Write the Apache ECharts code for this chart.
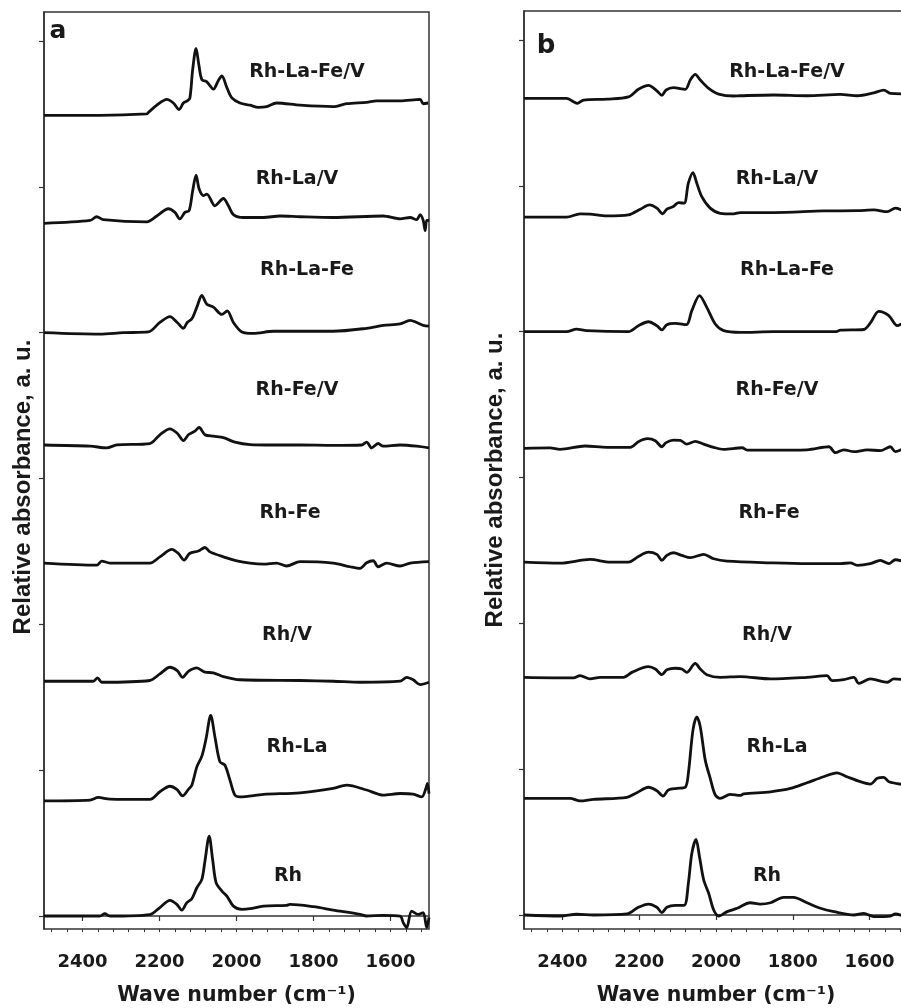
<!doctype html>
<html>
<head>
<meta charset='utf-8'>
<title>CO adsorption spectra</title>
<style>
html, body { margin: 0; padding: 0; background: #fff; }
#chart { width: 901px; height: 1008px; }
</style>
</head>
<body>
<div id="chart"></div>
<script src="https://cdn.jsdelivr.net/npm/echarts@6/dist/echarts.min.js"></script>
<script>
// sample names, bottom to top
const names = ['Rh', 'Rh-La', 'Rh/V', 'Rh-Fe', 'Rh-Fe/V', 'Rh-La-Fe', 'Rh-La/V', 'Rh-La-Fe/V'];
// vertical offsets of each trace (tick spacing = 1)
const offsetsA = [0, 0.79, 1.61, 2.42, 3.23, 4.0, 4.75, 5.49];
const offsetsB = [0, 0.80, 1.63, 2.42, 3.20, 4.0, 4.785, 5.60];
const xTicks = [2400, 2200, 2000, 1800, 1600];
const yTicks = [0, 1, 2, 3, 4, 5, 6];

// panel a  [wavenumber, absorbance above own baseline]
const aRh = [[2500,0],[2355,0],[2342,0.016],[2329,0],[2225,0.01],[2199,0.058],[2173,0.107],[2155,0.08],[2142,0.04],[2129,0.092],[2116,0.119],[2103,0.194],[2090,0.251],[2082,0.376],[2071,0.548],[2062,0.388],[2053,0.229],[2038,0.171],[2025,0.137],[2008,0.068],[1986,0.046],[1965,0.05],[1930,0.068],[1870,0.073],[1861,0.08],[1800,0.064],[1749,0.041],[1679,0.011],[1662,0],[1619,0.005],[1575,0],[1567,-0.045],[1558,-0.08],[1545,0.034],[1528,0.011],[1515,0.023],[1506,-0.08],[1500,-0.01]];
const aLa = [[2500,0],[2380,0.005],[2359,0.023],[2329,0.012],[2225,0.01],[2199,0.062],[2173,0.1],[2155,0.078],[2140,0.034],[2125,0.078],[2116,0.107],[2103,0.233],[2090,0.306],[2079,0.427],[2067,0.586],[2056,0.438],[2043,0.267],[2030,0.244],[2017,0.142],[2004,0.039],[1991,0.027],[1930,0.044],[1835,0.055],[1749,0.085],[1714,0.107],[1662,0.074],[1619,0.039],[1575,0.05],[1541,0.046],[1519,0.027],[1508,0.085],[1504,0.12],[1500,0.05]];
const aV = [[2500,0],[2372,0],[2361,0.023],[2350,-0.007],[2225,0.005],[2199,0.05],[2173,0.096],[2154,0.073],[2140,0.027],[2125,0.068],[2103,0.092],[2082,0.062],[2060,0.058],[2034,0.032],[1991,0.01],[1835,0.005],[1749,0],[1679,-0.007],[1575,0],[1558,0.027],[1541,0.01],[1523,-0.023],[1500,-0.007]];
const aFe = [[2500,0],[2363,-0.014],[2350,0.014],[2329,0],[2225,0],[2199,0.043],[2168,0.094],[2151,0.066],[2136,0.02],[2122,0.066],[2099,0.083],[2082,0.107],[2069,0.077],[2034,0.043],[1999,0.016],[1965,0],[1930,-0.007],[1896,0],[1870,-0.02],[1835,0.01],[1749,0],[1705,-0.025],[1679,-0.036],[1662,0.002],[1645,0.016],[1632,-0.025],[1610,0],[1575,-0.02],[1549,0],[1500,0.01]];
const aFeV = [[2500,0],[2380,-0.008],[2337,-0.02],[2311,0],[2225,0.01],[2199,0.07],[2173,0.11],[2154,0.08],[2138,0.03],[2125,0.07],[2108,0.095],[2097,0.12],[2082,0.07],[2060,0.06],[2034,0.05],[2004,0.02],[1965,0.003],[1904,0],[1835,0],[1749,-0.003],[1675,0],[1662,0.02],[1649,-0.02],[1632,0.01],[1619,-0.008],[1575,0],[1532,-0.008],[1500,-0.02]];
const aLaFe = [[2500,0],[2355,-0.01],[2294,0],[2229,0.005],[2199,0.07],[2173,0.11],[2154,0.07],[2138,0.03],[2128,0.07],[2116,0.095],[2103,0.175],[2090,0.255],[2077,0.195],[2060,0.175],[2038,0.125],[2024,0.15],[2008,0.07],[1986,0.005],[1956,-0.005],[1904,0.01],[1835,0.01],[1749,0.01],[1662,0.03],[1619,0.05],[1575,0.06],[1549,0.085],[1532,0.07],[1515,0.05],[1500,0.045]];
const aLaV = [[2500,0],[2380,0.02],[2363,0.045],[2346,0.025],[2233,0.01],[2207,0.05],[2177,0.10],[2160,0.075],[2147,0.03],[2134,0.075],[2123,0.087],[2114,0.22],[2105,0.33],[2097,0.235],[2086,0.19],[2077,0.20],[2056,0.12],[2034,0.17],[2021,0.12],[2008,0.06],[1982,0.04],[1930,0.04],[1887,0.05],[1835,0.045],[1749,0.04],[1619,0.05],[1575,0.03],[1549,0.04],[1532,0.025],[1523,0.06],[1515,0.02],[1510,-0.05],[1506,0.02],[1500,0.02]];
const aLaFeV = [[2500,0],[2355,0],[2233,0.01],[2229,0.02],[2207,0.07],[2181,0.11],[2164,0.085],[2149,0.04],[2138,0.085],[2128,0.10],[2121,0.12],[2114,0.31],[2105,0.46],[2098,0.35],[2090,0.245],[2077,0.23],[2060,0.18],[2047,0.24],[2038,0.27],[2025,0.19],[2012,0.12],[1991,0.085],[1965,0.07],[1943,0.055],[1922,0.06],[1896,0.085],[1835,0.07],[1749,0.06],[1714,0.08],[1662,0.09],[1636,0.10],[1575,0.10],[1523,0.11],[1515,0.08],[1502,0.085]];

// panel b
const bRh = [[2500,0],[2406,-0.007],[2363,0.005],[2319,0],[2232,0.007],[2202,0.053],[2176,0.075],[2154,0.053],[2141,0.016],[2128,0.053],[2106,0.066],[2083,0.066],[2072,0.217],[2063,0.422],[2052,0.518],[2043,0.4],[2032,0.24],[2019,0.148],[2006,0.034],[1993,-0.007],[1971,0.023],[1945,0.046],[1911,0.084],[1885,0.075],[1858,0.084],[1824,0.121],[1798,0.121],[1763,0.084],[1728,0.046],[1693,0.023],[1641,0],[1615,0.011],[1589,-0.011],[1546,-0.007],[1533,0.007],[1500,-0.02]];
const bLa = [[2500,0],[2380,0],[2354,-0.018],[2319,-0.007],[2232,0.007],[2206,0.039],[2176,0.076],[2154,0.052],[2138,0.016],[2124,0.057],[2102,0.068],[2080,0.076],[2072,0.171],[2060,0.468],[2050,0.559],[2041,0.491],[2028,0.262],[2015,0.137],[2002,0.023],[1989,0],[1963,0.027],[1937,0.02],[1928,0.03],[1858,0.045],[1806,0.068],[1763,0.107],[1720,0.148],[1685,0.175],[1659,0.148],[1624,0.114],[1598,0.098],[1580,0.137],[1563,0.144],[1550,0.114],[1500,0.09]];
const bV = [[2500,0],[2371,-0.004],[2354,0.012],[2328,-0.011],[2302,0],[2241,0],[2219,0.034],[2176,0.073],[2158,0.057],[2141,0.018],[2128,0.051],[2106,0.062],[2089,0.057],[2076,0.034],[2054,0.095],[2041,0.057],[2024,0.018],[1989,0],[1937,0.005],[1858,-0.011],[1763,0],[1711,0.011],[1698,-0.023],[1667,-0.016],[1641,0],[1628,-0.041],[1598,-0.011],[1554,-0.034],[1537,-0.011],[1500,-0.02]];
const bFe = [[2500,0],[2406,-0.007],[2328,0.018],[2276,0],[2228,0],[2202,0.039],[2176,0.068],[2154,0.053],[2141,0.012],[2128,0.046],[2111,0.064],[2089,0.046],[2067,0.03],[2032,0.053],[2006,0.023],[1971,0.007],[1858,-0.005],[1763,-0.011],[1676,-0.011],[1650,-0.005],[1632,-0.023],[1598,-0.011],[1572,0.012],[1550,-0.011],[1533,0.016],[1500,-0.005]];
const bFeV = [[2500,0],[2432,0.003],[2406,-0.007],[2341,0.016],[2284,0.007],[2223,0.007],[2202,0.046],[2178,0.066],[2158,0.052],[2141,0.011],[2130,0.039],[2111,0.057],[2093,0.055],[2076,0.029],[2054,0.048],[2032,0.029],[2006,0.007],[1980,-0.007],[1932,0.004],[1919,-0.012],[1858,-0.012],[1763,-0.01],[1706,0.011],[1689,-0.03],[1667,-0.01],[1641,-0.023],[1606,-0.01],[1572,-0.016],[1546,0.011],[1533,-0.023],[1500,0.02]];
const bLaFe = [[2500,0],[2389,0],[2363,0.018],[2337,0.007],[2228,0],[2202,0.041],[2176,0.068],[2154,0.041],[2141,0.012],[2128,0.048],[2106,0.057],[2077,0.048],[2063,0.144],[2043,0.247],[2024,0.167],[2002,0.053],[1980,0.007],[1937,-0.005],[1850,0],[1763,0],[1689,0],[1676,0.01],[1615,0.015],[1598,0.06],[1576,0.139],[1550,0.11],[1528,0.041],[1500,0.09]];
const bLaV = [[2500,0],[2389,0],[2354,0.023],[2328,0.021],[2284,0.009],[2228,0.016],[2197,0.055],[2173,0.084],[2154,0.062],[2139,0.023],[2128,0.055],[2111,0.073],[2098,0.1],[2083,0.096],[2072,0.233],[2060,0.306],[2050,0.233],[2037,0.141],[2015,0.062],[1989,0.027],[1954,0.023],[1937,0.032],[1850,0.032],[1720,0.043],[1632,0.045],[1589,0.05],[1554,0.038],[1533,0.062],[1500,0.027]];
const bLaFeV = [[2500,0],[2389,0],[2371,-0.023],[2361,-0.034],[2345,-0.012],[2284,-0.005],[2228,0.01],[2202,0.062],[2176,0.089],[2154,0.052],[2141,0.021],[2130,0.057],[2111,0.073],[2080,0.062],[2067,0.126],[2054,0.164],[2041,0.126],[2019,0.068],[1993,0.029],[1954,0.016],[1937,0.018],[1850,0.023],[1763,0.018],[1676,0.027],[1632,0.018],[1589,0.038],[1563,0.057],[1546,0.034],[1500,0.03]];

const tracesA = [aRh, aLa, aV, aFe, aFeV, aLaFe, aLaV, aLaFeV];
const tracesB = [bRh, bLa, bV, bFe, bFeV, bLaFe, bLaV, bLaFeV];

// label placement (pixels) — layout only
const labelY = [876, 747, 635, 513, 390, 270, 179, 72];
const labelXA = [288, 297, 287, 290, 297, 307, 297, 307];
const labelXB = [767, 777, 767, 769, 777, 787, 777, 787];

const ink = '#111';
const frame = '#333';
const hFont = '"DejaVu Sans", sans-serif';

const minorTicks = [];
for (let w = 2480; w > 1500; w -= 40) minorTicks.push(w);

function xAxes(gi) {
    return [{
        gridIndex: gi, type: 'value', min: 1500, max: 2500, inverse: true,
        axisLine: { show: true, lineStyle: { color: frame, width: 1.5 } },
        axisTick: { show: true, customValues: xTicks, length: 5, lineStyle: { color: frame, width: 1.2 } },
        axisLabel: { customValues: xTicks, margin: 24, fontSize: 18, fontWeight: 'bold', fontFamily: hFont, color: '#1a1a1a',
            formatter: v => String(v) },
        splitLine: { show: false },
        name: 'Wave number (cm⁻¹)', nameLocation: 'middle', nameGap: 56,
        nameTextStyle: { fontSize: 20.5, fontWeight: 'bold', fontFamily: hFont, color: '#1a1a1a' }
    }, {
        gridIndex: gi, type: 'value', min: 1500, max: 2500, inverse: true, position: 'bottom',
        axisLine: { show: false },
        axisTick: { show: true, customValues: minorTicks, length: 3, lineStyle: { color: frame, width: 1 } },
        axisLabel: { show: false },
        splitLine: { show: false }
    }];
}

function yAxis(gi, mn) {
    return {
        gridIndex: gi, type: 'value', min: mn, max: 6.199,
        axisLine: { show: true, lineStyle: { color: frame, width: 1.5 } },
        axisTick: { show: true, customValues: yTicks, length: 5, lineStyle: { color: frame, width: 1.2 } },
        axisLabel: { show: false },
        splitLine: { show: false }
    };
}

const series = [];
[[tracesA, offsetsA, 0], [tracesB, offsetsB, 2]].forEach(([traces, offs, xi]) => {
    traces.forEach((tr, i) => {
        series.push({
            type: 'line', name: names[i], xAxisIndex: xi, yAxisIndex: xi / 2,
            data: tr.map(p => [p[0], p[1] + offs[i]]),
            showSymbol: false, symbol: 'none', smooth: 0.3,
            lineStyle: { color: ink, width: 2.8 },
            silent: true
        });
    });
});

const graphics = [];
names.forEach((n, i) => {
    graphics.push({ type: 'text', x: labelXA[i], y: labelY[i],
        style: { text: n, fill: '#1a1a1a', font: 'bold 19px ' + hFont, align: 'center', verticalAlign: 'middle' } });
    graphics.push({ type: 'text', x: labelXB[i], y: labelY[i],
        style: { text: n, fill: '#1a1a1a', font: 'bold 19px ' + hFont, align: 'center', verticalAlign: 'middle' } });
});
graphics.push({ type: 'text', x: 58, y: 31, style: { text: 'a', fill: '#1a1a1a', font: 'bold 25px ' + hFont, align: 'center', verticalAlign: 'middle' } });
graphics.push({ type: 'text', x: 546, y: 46, style: { text: 'b', fill: '#1a1a1a', font: 'bold 26px ' + hFont, align: 'center', verticalAlign: 'middle' } });
[[23, 487], [495, 480]].forEach(([x, y]) => {
    graphics.push({ type: 'text', x: x, y: y, rotation: Math.PI / 2,
        style: { text: 'Relative absorbance, a. u.', fill: '#1a1a1a', font: 'bold 24px "Liberation Sans", Arial, sans-serif', align: 'center', verticalAlign: 'middle' } });
});

const chart = echarts.init(document.getElementById('chart'), null, { renderer: 'canvas' });
chart.setOption({
    animation: false,
    backgroundColor: '#fff',
    grid: [
        { left: 44, top: 12, width: 385, height: 917, show: true, borderColor: frame, borderWidth: 1.5, outerBoundsMode: 'none', containLabel: false },
        { left: 524, top: 11, width: 384, height: 918, show: true, borderColor: frame, borderWidth: 1.5, outerBoundsMode: 'none', containLabel: false }
    ],
    xAxis: xAxes(0).concat(xAxes(1)),
    yAxis: [yAxis(0, -0.089), yAxis(1, -0.096)],
    series: series,
    graphic: graphics
});
</script>
</body>
</html>
